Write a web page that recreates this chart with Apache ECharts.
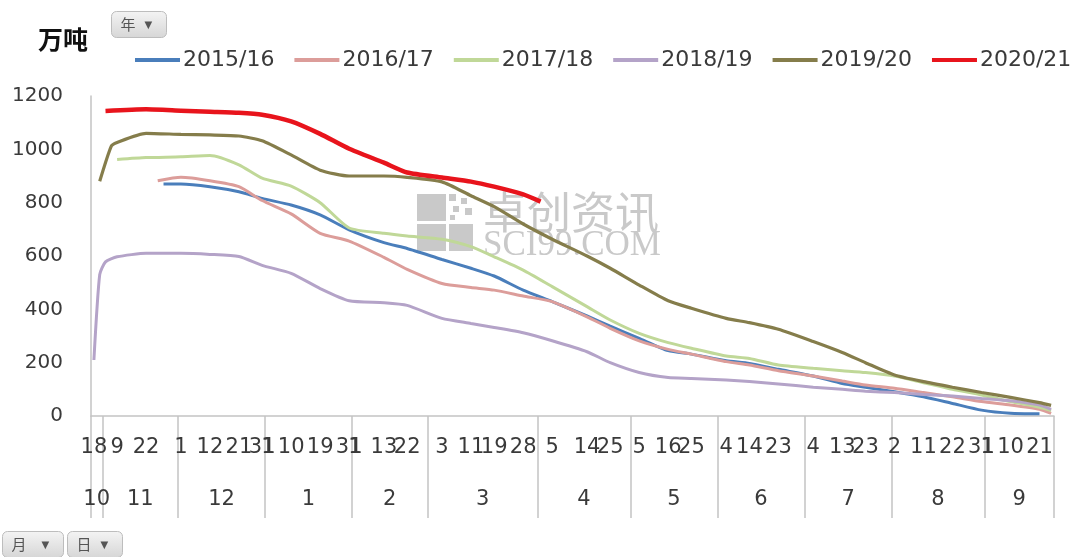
<!DOCTYPE html>
<html><head><meta charset="utf-8">
<script src="https://cdn.jsdelivr.net/npm/echarts@6/dist/echarts.min.js"></script>
<style>html,body{margin:0;padding:0;background:#fff}#c{width:1087px;height:557px}</style>
</head><body><div id="c"></div><script>
// month groups and the report dates inside each month (category axis)
const months = ['10','11','12','1','2','3','4','5','6','7','8','9'];
const monthDays = [
  [18,25],
  [1,5,9,11,14,16,19,22,23,25,26,28,29],
  [1,3,5,7,9,12,13,15,17,19,21,24,26,28,31],
  [1,3,5,8,10,12,13,15,17,19,21,24,26,29,31],
  [1,3,5,8,10,13,15,17,20,22,24,26,28],
  [1,2,3,4,6,8,9,11,13,15,17,19,21,23,25,26,28,29,31],
  [1,3,5,6,8,9,11,12,14,17,20,22,25,27,28,30],
  [1,5,7,9,11,13,16,18,20,22,25,27,28,30,31],
  [1,4,6,9,12,14,16,17,19,21,23,25,27,28,30],
  [1,4,6,8,10,12,13,16,18,21,23,25,27,29,31],
  [2,4,5,7,9,11,13,15,17,20,22,24,26,28,29,31],
  [1,3,5,7,10,12,14,16,19,21,23,25]
];
// day tick labels shown on the axis
const labeledDays = [[18],[9,22],[1,12,21,31],[1,10,19,31],[1,13,22],[3,11,19,28],[5,14,25],[5,16,25],[4,14,23],[4,13,23],[2,11,22,31],[1,10,21]];

const seriesNames = ['2015/16','2016/17','2017/18','2018/19','2019/20','2020/21'];

const d1516 = ['11-26','12-1','12-12','12-21','12-31','1-10','1-19','1-31','2-13','2-22','3-3','3-11','3-19','3-28','4-5','4-14','4-25','5-5','5-16','5-25','6-4','6-14','6-23','7-4','7-13','7-23','8-2','8-11','8-22','8-31','9-10','9-21'];
const v1516 = [870,870,860,841,816,791,754,698,650,628,587,554,525,472,429,375,337,291,245,232,207,197,175,150,122,108,91,72,47,22,10,8];

const d1617 = ['11-25','12-1','12-12','12-21','12-31','1-10','1-19','1-31','2-13','2-22','3-3','3-11','3-19','3-28','4-5','4-14','4-25','5-5','5-16','5-25','6-4','6-14','6-23','7-4','7-13','7-23','8-2','8-11','8-22','8-31','9-10','9-21','9-25'];
const v1617 = [882,895,882,860,808,758,685,656,595,550,497,482,472,450,429,372,329,282,250,232,204,191,170,150,131,116,104,88,72,54,41,25,10];

const d1718 = ['11-9','11-22','12-1','12-12','12-21','12-31','1-10','1-19','1-31','2-13','2-22','3-3','3-11','3-19','3-28','4-5','4-14','4-25','5-5','5-16','5-25','6-4','6-14','6-23','7-4','7-13','7-23','8-2','8-11','8-22','8-31','9-10','9-21','9-25'];
const v1718 = [962,969,972,977,942,892,862,800,705,685,675,663,635,597,547,485,410,360,310,275,254,225,216,191,179,170,163,150,125,100,79,54,33,20];

const d1819 = ['10-18','10-25','11-1','11-9','11-22','12-1','12-12','12-21','12-31','1-10','1-19','1-31','2-13','2-22','3-3','3-11','3-19','3-28','4-5','4-14','4-25','5-5','5-16','5-25','6-4','6-14','6-23','7-4','7-13','7-23','8-2','8-11','8-22','8-31','9-10','9-21','9-25'];
const v1819 = [210,530,578,597,610,610,606,598,565,535,478,432,425,415,366,347,332,312,282,241,200,163,144,141,135,129,120,108,100,93,88,81,75,66,57,41,25];

const d1920 = ['10-25','11-5','11-9','11-22','12-1','12-12','12-21','12-31','1-10','1-19','1-31','2-13','2-22','3-3','3-11','3-19','3-28','4-5','4-14','4-25','5-5','5-16','5-25','6-4','6-14','6-23','7-4','7-13','7-23','8-2','8-11','8-22','8-31','9-10','9-21','9-25'];
const v1920 = [880,1012,1026,1060,1056,1054,1050,1032,979,922,900,900,895,878,826,785,720,663,600,554,491,432,404,366,350,325,279,238,200,154,129,108,88,70,50,40];

const d2021 = ['11-1','11-22','12-1','12-12','12-21','12-31','1-10','1-19','1-31','2-13','2-22','3-3','3-11','3-19','3-28','4-1'];
const v2021 = [1144,1150,1145,1141,1137,1130,1105,1058,1002,950,913,894,879,860,831,804];

const seriesDates = [d1516,d1617,d1718,d1819,d1920,d2021];
const seriesVals = [v1516,v1617,v1718,v1819,v1920,v2021];
const colors = ['#4a7ebb','#dc9d9a','#c0d898','#b4a3c8','#857d4b','#e8141c'];
const widths = [3,3,3,3,3.2,4.5];

// build the category axis
const categories = [];
months.forEach((m,i)=>monthDays[i].forEach(d=>categories.push(m+'-'+d)));
const labeled = new Set();
months.forEach((m,i)=>labeledDays[i].forEach(d=>labeled.add(m+'-'+d)));
const monthMid = {};
let acc = 0;
monthDays.forEach((arr,i)=>{ monthMid[acc + Math.floor(arr.length/2)] = {m: months[i], even: arr.length % 2 === 0}; acc += arr.length; });
const mon = c => c.split('-')[0];

const FONT = 'DejaVu Sans';
const chart = echarts.init(document.getElementById('c'), null, {renderer:'canvas'});

function button(x, y, w, h, label) {
  return {
    type: 'group', left: x, top: y,
    children: [
      {type:'rect', shape:{x:0,y:0,width:w,height:h,r:5},
       style:{fill:new echarts.graphic.LinearGradient(0,0,0,1,[{offset:0,color:'#f4f4f4'},{offset:1,color:'#d6d6d6'}]), stroke:'#bdbdbd', lineWidth:1}},
      {type:'text', x:9, y:h/2, style:{text:label, fill:'#555', font:'15px "Noto Sans CJK SC"', verticalAlign:'middle'}},
      {type:'text', x:w-22, y:h/2+1, style:{text:'▼', fill:'#555', font:'10px "DejaVu Sans"', verticalAlign:'middle'}}
    ]
  };
}

const wm = '#c9c9c9';
const option = {
  backgroundColor: '#ffffff',
  animation: false,
  title: {text:'万吨', left: 33, top: 22, textStyle:{fontSize:25, fontWeight:'bold', color:'#111', fontFamily:'Noto Sans CJK SC'}},
  legend: {
    data: seriesNames, left: 130, top: 44, icon: 'rect', itemWidth: 45, itemHeight: 4, itemGap: 20,
    textStyle: {fontSize: 22, color: '#3a3a3a', fontFamily: FONT, padding:[0,0,0,-2]}
  },
  grid: {left: 91, right: 33, top: 96, bottom: 141, containLabel: false, outerBoundsMode: 'none'},
  xAxis: [
    {
      type: 'category', data: categories, boundaryGap: true,
      axisLine: {show: true, lineStyle: {color: '#c3c3c3', width: 1.5}},
      axisTick: {show: true, length: 102, lineStyle: {color: '#c3c3c3', width: 1.5},
        interval: (i, v) => i === 0 || mon(v) !== mon(categories[i-1])},
      axisLabel: {interval: (i, v) => labeled.has(v), formatter: v => v.split('-')[1],
        fontSize: 21, fontFamily: FONT, color: '#3a3a3a', margin: 21, hideOverlap: false},
      splitLine: {show: false}
    },
    {
      type: 'category', data: categories, boundaryGap: true, position: 'bottom',
      axisLine: {show: false}, axisTick: {show: false}, splitLine: {show:false},
      axisLabel: {interval: (i) => monthMid[i] !== undefined,
        formatter: (v, i) => { const mm = monthMid[i]; return mm ? (mm.even ? '{e|' + mm.m + '}' : '{o|' + mm.m + '}') : ''; },
        rich: {e: {fontSize:21, fontFamily:FONT, color:'#3a3a3a', padding:[0,6,0,0]}, o: {fontSize:21, fontFamily:FONT, color:'#3a3a3a'}},
        fontSize: 21, fontFamily: FONT, color: '#3a3a3a', margin: 73, hideOverlap: false}
    }
  ],
  yAxis: {
    type: 'value', min: 0, max: 1200, interval: 200,
    axisLine: {show: true, lineStyle: {color: '#c3c3c3', width: 1.5}},
    axisTick: {show: false}, splitLine: {show: false},
    axisLabel: {fontSize: 20, fontFamily: FONT, color: '#3a3a3a', margin: 28, formatter: v => String(v)}
  },
  graphic: [
    button(111, 11, 55, 26, '年'),
    button(2, 531, 61, 26, '月'),
    button(67, 531, 55, 26, '日'),
    {type:'group', left: 417, top: 190, z: 0, silent: true, children: [
      {type:'rect', shape:{x:0,y:0,width:29,height:27}, style:{fill:wm}},
      {type:'rect', shape:{x:0,y:30,width:29,height:27}, style:{fill:wm}},
      {type:'rect', shape:{x:32,y:30,width:24,height:27}, style:{fill:wm}},
      {type:'rect', shape:{x:32,y:0,width:7,height:7}, style:{fill:wm}},
      {type:'rect', shape:{x:44,y:4,width:6,height:6}, style:{fill:wm}},
      {type:'rect', shape:{x:36,y:12,width:6,height:6}, style:{fill:wm}},
      {type:'rect', shape:{x:48,y:14,width:7,height:7}, style:{fill:wm}},
      {type:'rect', shape:{x:33,y:21,width:5,height:5}, style:{fill:wm}},
      {type:'text', x:66, y:-4, style:{text:'卓创资讯', fill:wm, font:'44px "Noto Sans CJK SC"'}},
      {type:'text', x:66, y:34, style:{text:'SCI99.COM', fill:wm, font:'35px "Liberation Serif"'}}
    ]}
  ],
  series: seriesNames.map((n, i) => ({
    name: n, type: 'line', xAxisIndex: 0,
    data: seriesDates[i].map((d, j) => [d, seriesVals[i][j]]),
    symbol: 'none', smooth: 0.2, connectNulls: true,
    lineStyle: {color: colors[i], width: widths[i]}, itemStyle: {color: colors[i]},
    z: 3 + i
  }))
};
chart.setOption(option);
</script></body></html>
